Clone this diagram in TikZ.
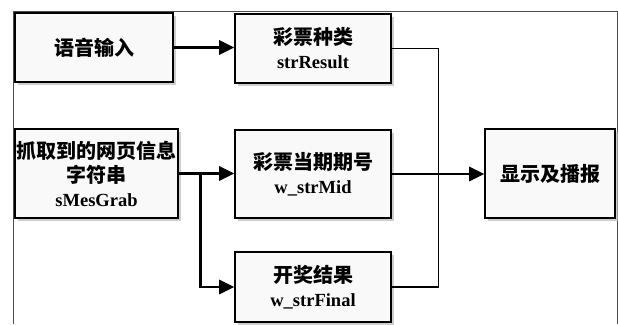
\documentclass[tikz,border=0pt]{standalone}
\usepackage{fontspec}
\setmainfont{Liberation Serif}
\newfontfamily\cjk{Noto Sans CJK SC}
\usetikzlibrary{arrows.meta}
\usetikzlibrary{shadows}

\newcommand{\zh}[1]{{\cjk\fontsize{20}{24}\selectfont #1}}

\tikzset{
  box/.style={draw=black, line width=1.6pt, fill=gray!5, inner sep=0pt,
    drop shadow={shadow xshift=2.5pt, shadow yshift=-2.5pt, fill=gray!55, opacity=.7},
    align=center, font=\fontsize{18.5}{24}\selectfont\bfseries},
  link/.style={line width=2.8pt, -{Triangle[length=15pt,width=14pt]}},
  thinlink/.style={line width=1.2pt}
}

\begin{document}
\begin{tikzpicture}[x=1pt,y=-1pt]

  \useasboundingbox (0,0) rectangle (618,324);

  \draw[gray!60!black, line width=1pt] (13,324) -- (13,11) -- (617,11) -- (617,324); %frame

  \node[box, minimum width=158pt, minimum height=69pt] (voice) at (94,47.5) {\zh{语音输入}};
  \node[box, minimum width=156pt, minimum height=69pt] (kind) at (313,48.5) {\zh{彩票种类}\\strResult};
  \node[box, minimum width=163pt, minimum height=89pt] (grab) at (96.5,173.5)
      {\zh{抓取到的网页信息}\\\zh{字符串}\\sMesGrab};
  \node[box, minimum width=156pt, minimum height=88pt] (mid) at (313,174) {\zh{彩票当期期号}\\w\_strMid};
  \node[box, minimum width=156pt, minimum height=70pt] (final) at (313,287) {\zh{开奖结果}\\w\_strFinal};
  \node[box, minimum width=130pt, minimum height=89pt] (show) at (550,173.5) {\zh{显示及播报}};

  \draw[link] (voice.east) -- (voice.east -| kind.west);
  \draw[link] (grab.east) -- (grab.east -| mid.west);
  \draw[link] ([xshift=22pt]grab.east) |- (final.west);
  \draw[link] (mid.east) -- (mid.east -| show.west);

  \draw[thinlink] (kind.east) -- ++(47,0) |- (final.east);

\end{tikzpicture}
\end{document}
